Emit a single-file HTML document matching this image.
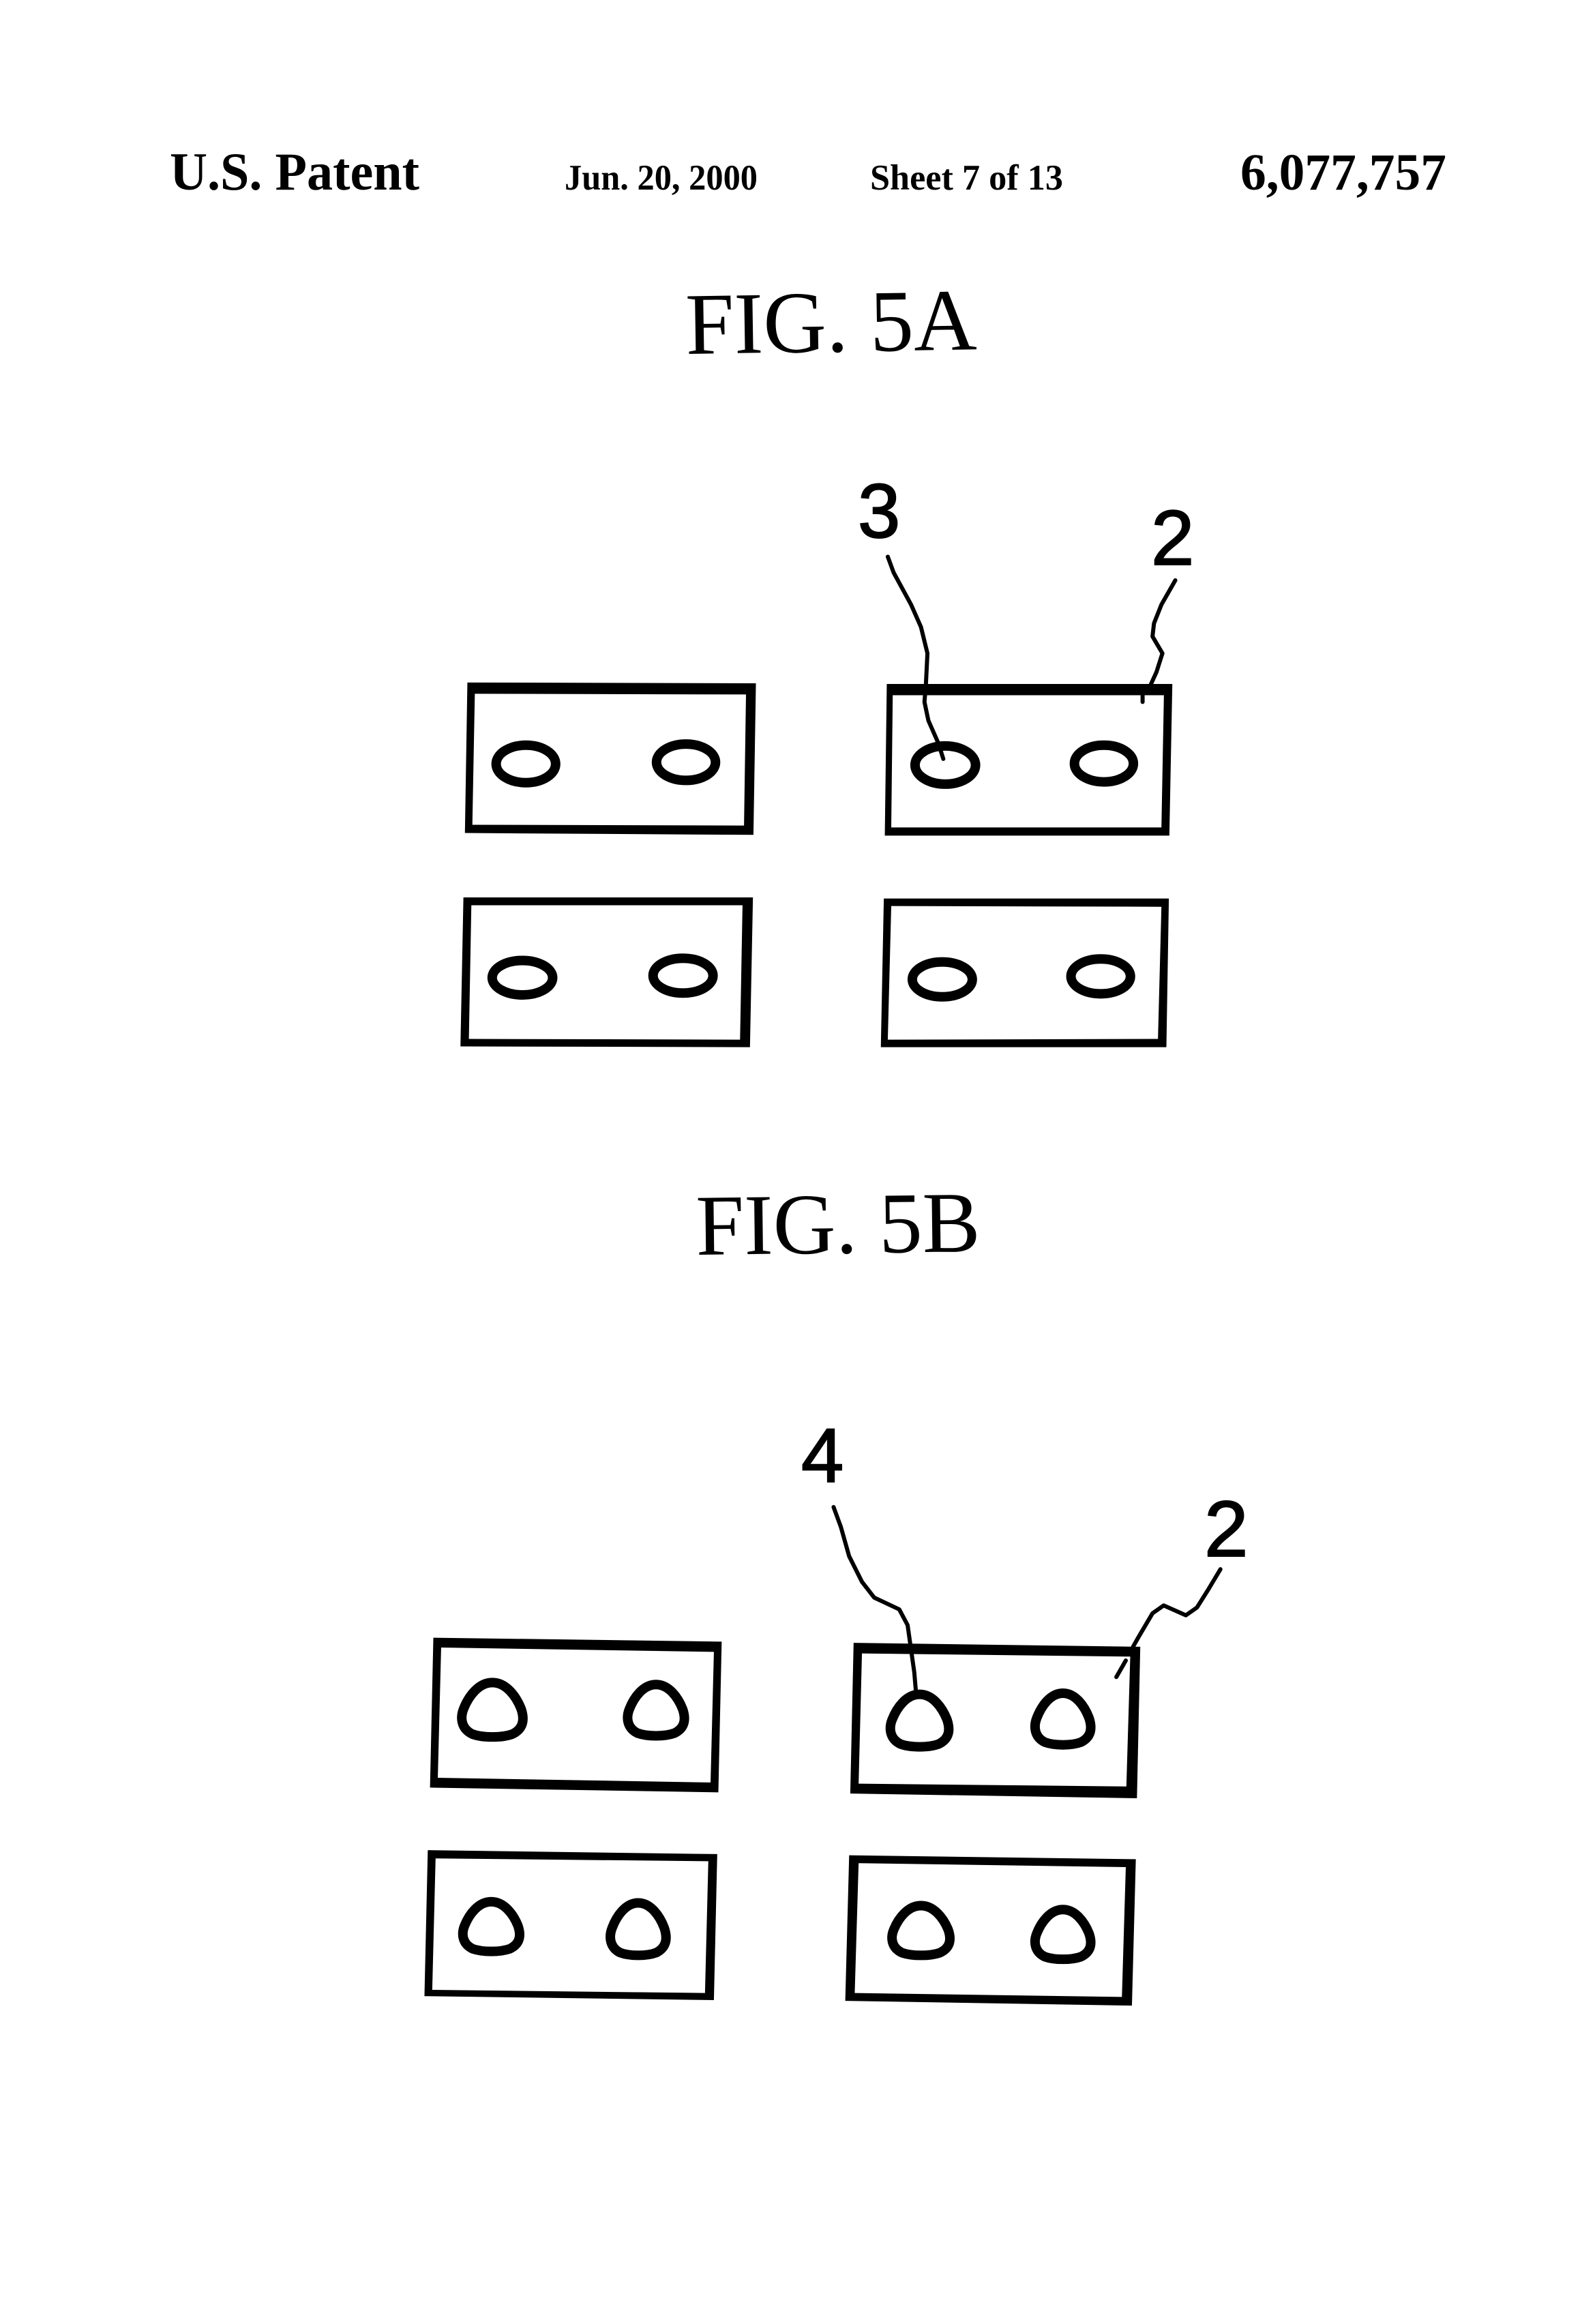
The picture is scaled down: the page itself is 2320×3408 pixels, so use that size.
<!DOCTYPE html>
<html><head><meta charset="utf-8"><style>
html,body{margin:0;padding:0;background:#fff;width:2320px;height:3408px;overflow:hidden}
svg{display:block}
.f{fill:#000;fill-rule:evenodd}
.e{fill:#fff;stroke:#000;stroke-width:14;vector-effect:non-scaling-stroke}
.l{fill:none;stroke:#000;stroke-width:6;stroke-linejoin:round;stroke-linecap:round;vector-effect:non-scaling-stroke}
.s{font-family:"Liberation Serif",serif;fill:#000}
.n{font-family:"Liberation Sans",sans-serif;fill:#000;stroke:#000;stroke-width:2}
</style></head><body>
<svg xmlns="http://www.w3.org/2000/svg" width="2320" height="3408" viewBox="0 0 2320 3408">
<rect width="2320" height="3408" fill="#fff"/>
<text class="s" x="249" y="278" font-size="78" font-weight="bold" textLength="366" lengthAdjust="spacingAndGlyphs">U.S. Patent</text>
<text class="s" x="828" y="278" font-size="53" font-weight="bold" textLength="283" lengthAdjust="spacingAndGlyphs">Jun. 20, 2000</text>
<text class="s" x="1276" y="278" font-size="53" font-weight="bold" textLength="283" lengthAdjust="spacingAndGlyphs">Sheet 7 of 13</text>
<text class="s" x="1819" y="278" font-size="76" font-weight="bold" textLength="302" lengthAdjust="spacingAndGlyphs">6,077,757</text>
<text class="s" transform="translate(1006 519) rotate(-0.9)" font-size="129" textLength="427" lengthAdjust="spacingAndGlyphs">FIG. 5A</text>
<text class="s" transform="translate(1021 1840) rotate(-0.7)" font-size="127" textLength="417" lengthAdjust="spacingAndGlyphs">FIG. 5B</text>

<g transform="translate(620 700) scale(.727 .549)">
<path class="f" d="M90 548L672 550L667 955L85 950ZM105 578L100 928L648 930L652 580Z"/>
<path class="f" d="M936 552L1512 552L1506 957L932 957ZM948 582L945 935L1490 935L1495 582Z"/>
<path class="f" d="M82 1122L666 1122L660 1522L76 1520ZM98 1143L93 1500L640 1502L645 1143Z"/>
<path class="f" d="M930 1125L1505 1125L1500 1522L924 1522ZM945 1145L938 1502L1483 1500L1490 1147Z"/>
<ellipse class="e" cx="208" cy="765.5" rx="60" ry="50"/>
<ellipse class="e" cx="531" cy="761" rx="59.5" ry="48.5"/>
<ellipse class="e" cx="1054" cy="768.5" rx="61" ry="51"/>
<ellipse class="e" cx="1374" cy="764.5" rx="59.5" ry="49"/>
<ellipse class="e" cx="201" cy="1336.5" rx="61" ry="46"/>
<ellipse class="e" cx="525" cy="1331" rx="60.5" ry="46.5"/>
<ellipse class="e" cx="1048" cy="1341" rx="60.5" ry="46.5"/>
<ellipse class="e" cx="1367.5" cy="1333" rx="60" ry="46.5"/>
<path class="l" d="M938 212L950 255L985 340L1005 400L1018 470L1015 550L1012 600L1020 650L1040 710L1050 752"/>
<path class="l" d="M1518 275L1490 340L1475 390L1472 425L1492 470L1480 520L1468 555M1452 580L1452 600"/>
</g>

<g transform="translate(580 2060) scale(.8163 .577)">
<path class="f" d="M68 592L586 602L580 985L62 973ZM82 617L76 948L566 960L572 628Z"/>
<path class="f" d="M823 605L1338 615L1332 1000L817 988ZM838 632L832 963L1313 970L1320 640Z"/>
<path class="f" d="M58 1132L578 1142L572 1513L52 1503ZM72 1153L66 1487L556 1495L562 1160Z"/>
<path class="f" d="M815 1145L1330 1155L1323 1527L808 1515ZM832 1165L825 1495L1305 1505L1312 1175Z"/>
<path class="e" transform="translate(118 706) scale(112 138)" d="M.5 0C.72 0 .88 .25 .96 .48C1.02 .68 1 .85 .82 .95C.65 1.02 .35 1.02 .18 .95C0 .85 -.02 .65 .04 .48C.12 .25 .28 0 .5 0Z"/>
<path class="e" transform="translate(416 711) scale(104 130)" d="M.5 0C.72 0 .88 .25 .96 .48C1.02 .68 1 .85 .82 .95C.65 1.02 .35 1.02 .18 .95C0 .85 -.02 .65 .04 .48C.12 .25 .28 0 .5 0Z"/>
<path class="e" transform="translate(888 736) scale(107 133)" d="M.5 0C.72 0 .88 .25 .96 .48C1.02 .68 1 .85 .82 .95C.65 1.02 .35 1.02 .18 .95C0 .85 -.02 .65 .04 .48C.12 .25 .28 0 .5 0Z"/>
<path class="e" transform="translate(1148 733) scale(102 131)" d="M.5 0C.72 0 .88 .25 .96 .48C1.02 .68 1 .85 .82 .95C.65 1.02 .35 1.02 .18 .95C0 .85 -.02 .65 .04 .48C.12 .25 .28 0 .5 0Z"/>
<path class="e" transform="translate(120 1263) scale(104 126)" d="M.5 0C.72 0 .88 .25 .96 .48C1.02 .68 1 .85 .82 .95C.65 1.02 .35 1.02 .18 .95C0 .85 -.02 .65 .04 .48C.12 .25 .28 0 .5 0Z"/>
<path class="e" transform="translate(385 1266) scale(102 133)" d="M.5 0C.72 0 .88 .25 .96 .48C1.02 .68 1 .85 .82 .95C.65 1.02 .35 1.02 .18 .95C0 .85 -.02 .65 .04 .48C.12 .25 .28 0 .5 0Z"/>
<path class="e" transform="translate(891 1273) scale(106 126)" d="M.5 0C.72 0 .88 .25 .96 .48C1.02 .68 1 .85 .82 .95C.65 1.02 .35 1.02 .18 .95C0 .85 -.02 .65 .04 .48C.12 .25 .28 0 .5 0Z"/>
<path class="e" transform="translate(1148 1283) scale(102 126)" d="M.5 0C.72 0 .88 .25 .96 .48C1.02 .68 1 .85 .82 .95C.65 1.02 .35 1.02 .18 .95C0 .85 -.02 .65 .04 .48C.12 .25 .28 0 .5 0Z"/>
<path class="l" d="M787 260L800 310L815 385L838 450L860 490L905 520L920 560L925 610L932 680L935 730"/>
<path class="l" d="M1482 418L1460 470L1440 515L1420 535L1380 510L1360 530L1335 590L1325 615M1312 650L1295 692"/>
</g>

<text class="n" x="1258" y="788" font-size="112">3</text>
<text class="n" x="1688" y="828" font-size="114">2</text>
<text class="n" x="1175" y="2173" font-size="112">4</text>
<text class="n" x="1766" y="2282" font-size="116">2</text>
</svg>
</body></html>
